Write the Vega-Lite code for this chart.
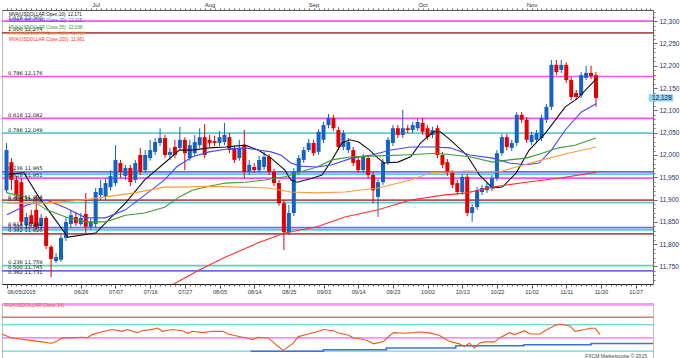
{
"$schema": "https://vega.github.io/schema/vega-lite/v6.json",
"padding": 0,
"background": "white",
"spacing": 6,
"config": {"view": {"stroke": "#bdbdbd"}, "font": "Liberation Sans", "axis": {"grid": false, "title": null, "labelFont": "Liberation Sans", "domainWidth": 1, "tickWidth": 1}},
"datasets": {
"ohlc": [
{"i":0,"o":11.921,"h":12.027,"l":11.915,"c":12.011},
{"i":1,"o":11.984,"h":11.993,"l":11.921,"c":11.944},
{"i":2,"o":11.944,"h":11.953,"l":11.899,"c":11.910},
{"i":3,"o":11.939,"h":11.948,"l":11.841,"c":11.850},
{"i":4,"o":11.843,"h":11.870,"l":11.834,"c":11.861},
{"i":5,"o":11.865,"h":11.877,"l":11.839,"c":11.845},
{"i":6,"o":11.877,"h":11.910,"l":11.832,"c":11.839},
{"i":7,"o":11.841,"h":11.868,"l":11.834,"c":11.859},
{"i":8,"o":11.859,"h":11.863,"l":11.789,"c":11.796},
{"i":9,"o":11.794,"h":11.798,"l":11.726,"c":11.767},
{"i":10,"o":11.762,"h":11.780,"l":11.758,"c":11.771},
{"i":11,"o":11.765,"h":11.821,"l":11.760,"c":11.814},
{"i":12,"o":11.814,"h":11.861,"l":11.807,"c":11.850},
{"i":13,"o":11.845,"h":11.877,"l":11.836,"c":11.865},
{"i":14,"o":11.861,"h":11.872,"l":11.841,"c":11.847},
{"i":15,"o":11.845,"h":11.870,"l":11.841,"c":11.859},
{"i":16,"o":11.868,"h":11.915,"l":11.825,"c":11.839},
{"i":17,"o":11.839,"h":11.857,"l":11.832,"c":11.850},
{"i":18,"o":11.845,"h":11.926,"l":11.836,"c":11.917},
{"i":19,"o":11.910,"h":11.944,"l":11.899,"c":11.926},
{"i":20,"o":11.906,"h":11.948,"l":11.899,"c":11.937},
{"i":21,"o":11.928,"h":11.966,"l":11.921,"c":11.953},
{"i":22,"o":11.937,"h":12.022,"l":11.930,"c":11.989},
{"i":23,"o":11.982,"h":11.989,"l":11.948,"c":11.962},
{"i":24,"o":11.953,"h":11.978,"l":11.944,"c":11.971},
{"i":25,"o":11.971,"h":11.978,"l":11.930,"c":11.939},
{"i":26,"o":11.944,"h":11.989,"l":11.937,"c":11.982},
{"i":27,"o":12.000,"h":12.016,"l":11.955,"c":11.962},
{"i":28,"o":11.966,"h":12.011,"l":11.960,"c":12.000},
{"i":29,"o":11.993,"h":12.034,"l":11.987,"c":12.011},
{"i":30,"o":12.007,"h":12.038,"l":12.000,"c":12.029},
{"i":31,"o":12.027,"h":12.060,"l":12.020,"c":12.038},
{"i":32,"o":12.038,"h":12.045,"l":11.993,"c":12.000},
{"i":33,"o":12.000,"h":12.016,"l":11.989,"c":12.007},
{"i":34,"o":12.018,"h":12.034,"l":11.993,"c":12.000},
{"i":35,"o":12.016,"h":12.063,"l":12.009,"c":12.034},
{"i":36,"o":12.034,"h":12.040,"l":11.966,"c":12.004},
{"i":37,"o":11.993,"h":12.034,"l":11.987,"c":12.022},
{"i":38,"o":12.004,"h":12.045,"l":11.998,"c":12.029},
{"i":39,"o":12.022,"h":12.060,"l":12.016,"c":12.040},
{"i":40,"o":12.040,"h":12.069,"l":11.993,"c":12.000},
{"i":41,"o":12.034,"h":12.045,"l":12.018,"c":12.027},
{"i":42,"o":12.031,"h":12.043,"l":12.020,"c":12.027},
{"i":43,"o":12.027,"h":12.054,"l":12.020,"c":12.040},
{"i":44,"o":12.029,"h":12.072,"l":12.022,"c":12.045},
{"i":45,"o":12.040,"h":12.049,"l":12.004,"c":12.011},
{"i":46,"o":12.016,"h":12.022,"l":11.982,"c":11.989},
{"i":47,"o":11.993,"h":12.034,"l":11.987,"c":12.016},
{"i":48,"o":12.022,"h":12.056,"l":11.948,"c":11.962},
{"i":49,"o":11.962,"h":11.989,"l":11.955,"c":11.978},
{"i":50,"o":11.973,"h":11.982,"l":11.960,"c":11.966},
{"i":51,"o":11.966,"h":11.998,"l":11.960,"c":11.989},
{"i":52,"o":11.973,"h":12.007,"l":11.966,"c":11.996},
{"i":53,"o":11.996,"h":12.002,"l":11.955,"c":11.962},
{"i":54,"o":11.962,"h":11.969,"l":11.930,"c":11.937},
{"i":55,"o":11.937,"h":11.944,"l":11.886,"c":11.892},
{"i":56,"o":11.892,"h":11.899,"l":11.787,"c":11.827},
{"i":57,"o":11.827,"h":11.888,"l":11.821,"c":11.870},
{"i":58,"o":11.870,"h":11.971,"l":11.863,"c":11.962},
{"i":59,"o":11.962,"h":12.000,"l":11.955,"c":11.993},
{"i":60,"o":11.989,"h":12.018,"l":11.982,"c":12.011},
{"i":61,"o":12.011,"h":12.036,"l":12.007,"c":12.027},
{"i":62,"o":12.027,"h":12.034,"l":11.998,"c":12.004},
{"i":63,"o":12.007,"h":12.058,"l":12.000,"c":12.052},
{"i":64,"o":12.034,"h":12.074,"l":12.027,"c":12.067},
{"i":65,"o":12.067,"h":12.092,"l":12.060,"c":12.083},
{"i":66,"o":12.083,"h":12.090,"l":12.054,"c":12.060},
{"i":67,"o":12.056,"h":12.063,"l":12.011,"c":12.018},
{"i":68,"o":12.018,"h":12.056,"l":12.011,"c":12.049},
{"i":69,"o":12.011,"h":12.038,"l":12.004,"c":12.029},
{"i":70,"o":12.011,"h":12.018,"l":11.975,"c":11.982},
{"i":71,"o":11.989,"h":11.996,"l":11.960,"c":11.966},
{"i":72,"o":11.966,"h":12.002,"l":11.960,"c":11.996},
{"i":73,"o":11.993,"h":12.000,"l":11.948,"c":11.955},
{"i":74,"o":11.955,"h":11.962,"l":11.892,"c":11.921},
{"i":75,"o":11.906,"h":11.946,"l":11.861,"c":11.939},
{"i":76,"o":11.939,"h":11.991,"l":11.933,"c":11.984},
{"i":77,"o":11.984,"h":12.040,"l":11.978,"c":12.034},
{"i":78,"o":12.027,"h":12.067,"l":12.020,"c":12.060},
{"i":79,"o":12.060,"h":12.067,"l":12.038,"c":12.045},
{"i":80,"o":12.045,"h":12.101,"l":12.038,"c":12.060},
{"i":81,"o":12.060,"h":12.067,"l":12.049,"c":12.056},
{"i":82,"o":12.056,"h":12.074,"l":12.049,"c":12.067},
{"i":83,"o":12.060,"h":12.081,"l":12.054,"c":12.074},
{"i":84,"o":12.072,"h":12.083,"l":12.045,"c":12.052},
{"i":85,"o":12.060,"h":12.067,"l":12.034,"c":12.040},
{"i":86,"o":12.045,"h":12.063,"l":12.038,"c":12.056},
{"i":87,"o":12.060,"h":12.067,"l":11.993,"c":12.000},
{"i":88,"o":12.000,"h":12.007,"l":11.971,"c":11.978},
{"i":89,"o":11.984,"h":11.991,"l":11.953,"c":11.960},
{"i":90,"o":11.960,"h":11.966,"l":11.926,"c":11.933},
{"i":91,"o":11.937,"h":11.944,"l":11.910,"c":11.917},
{"i":92,"o":11.917,"h":11.957,"l":11.910,"c":11.951},
{"i":93,"o":11.951,"h":11.957,"l":11.863,"c":11.870},
{"i":94,"o":11.870,"h":11.890,"l":11.850,"c":11.883},
{"i":95,"o":11.883,"h":11.928,"l":11.877,"c":11.921},
{"i":96,"o":11.917,"h":11.933,"l":11.910,"c":11.926},
{"i":97,"o":11.921,"h":11.937,"l":11.915,"c":11.930},
{"i":98,"o":11.926,"h":11.955,"l":11.919,"c":11.948},
{"i":99,"o":11.948,"h":12.011,"l":11.942,"c":12.004},
{"i":100,"o":12.004,"h":12.047,"l":11.998,"c":12.040},
{"i":101,"o":12.040,"h":12.047,"l":12.011,"c":12.018},
{"i":102,"o":12.016,"h":12.034,"l":12.009,"c":12.027},
{"i":103,"o":12.027,"h":12.096,"l":12.020,"c":12.090},
{"i":104,"o":12.090,"h":12.096,"l":12.072,"c":12.079},
{"i":105,"o":12.079,"h":12.085,"l":12.027,"c":12.034},
{"i":106,"o":12.029,"h":12.052,"l":12.022,"c":12.045},
{"i":107,"o":12.034,"h":12.056,"l":12.027,"c":12.049},
{"i":108,"o":12.038,"h":12.090,"l":12.031,"c":12.083},
{"i":109,"o":12.079,"h":12.114,"l":12.072,"c":12.108},
{"i":110,"o":12.108,"h":12.213,"l":12.101,"c":12.202},
{"i":111,"o":12.202,"h":12.213,"l":12.179,"c":12.186},
{"i":112,"o":12.191,"h":12.213,"l":12.184,"c":12.202},
{"i":113,"o":12.202,"h":12.208,"l":12.161,"c":12.168},
{"i":114,"o":12.168,"h":12.175,"l":12.123,"c":12.130},
{"i":115,"o":12.139,"h":12.146,"l":12.123,"c":12.130},
{"i":116,"o":12.134,"h":12.186,"l":12.128,"c":12.179},
{"i":117,"o":12.173,"h":12.200,"l":12.168,"c":12.184},
{"i":118,"o":12.184,"h":12.200,"l":12.170,"c":12.177},
{"i":119,"o":12.179,"h":12.186,"l":12.108,"c":12.128}
],
"ma": [
{"ma":"10","i":0.5,"p":11.957},{"ma":"10","i":3.5,"p":11.960},{"ma":"10","i":6.5,"p":11.906},{"ma":"10","i":12.4,"p":11.816},{"ma":"10","i":18,"p":11.825},{"ma":"10","i":21,"p":11.859},{"ma":"10","i":24,"p":11.892},{"ma":"10","i":27.9,"p":11.944},{"ma":"10","i":31.9,"p":11.982},{"ma":"10","i":34.9,"p":12.011},{"ma":"10","i":37.5,"p":12.011},{"ma":"10","i":40.9,"p":12.016},{"ma":"10","i":44.2,"p":12.018},{"ma":"10","i":48.2,"p":12.022},{"ma":"10","i":50.8,"p":12.011},{"ma":"10","i":53.4,"p":11.993},{"ma":"10","i":56.2,"p":11.966},{"ma":"10","i":57.4,"p":11.944},{"ma":"10","i":58.7,"p":11.939},{"ma":"10","i":61.7,"p":11.948},{"ma":"10","i":63.7,"p":11.955},{"ma":"10","i":65.7,"p":11.989},{"ma":"10","i":67.7,"p":12.027},{"ma":"10","i":69.3,"p":12.034},{"ma":"10","i":71.1,"p":12.029},{"ma":"10","i":73.3,"p":12.011},{"ma":"10","i":75,"p":11.993},{"ma":"10","i":76.2,"p":11.982},{"ma":"10","i":79,"p":11.984},{"ma":"10","i":81.6,"p":11.996},{"ma":"10","i":83.6,"p":12.027},{"ma":"10","i":86.2,"p":12.052},{"ma":"10","i":87.6,"p":12.052},{"ma":"10","i":89.6,"p":12.034},{"ma":"10","i":92.9,"p":12.000},{"ma":"10","i":95.5,"p":11.955},{"ma":"10","i":98.1,"p":11.926},{"ma":"10","i":100.1,"p":11.928},{"ma":"10","i":102.9,"p":11.960},{"ma":"10","i":105.5,"p":12.011},{"ma":"10","i":108.8,"p":12.049},{"ma":"10","i":112.8,"p":12.108},{"ma":"10","i":115.4,"p":12.128},{"ma":"10","i":119,"p":12.170},
{"ma":"20","i":0.1,"p":11.866},{"ma":"20","i":4.1,"p":11.888},{"ma":"20","i":8.1,"p":11.899},{"ma":"20","i":12,"p":11.881},{"ma":"20","i":16,"p":11.859},{"ma":"20","i":20,"p":11.859},{"ma":"20","i":24,"p":11.877},{"ma":"20","i":27.9,"p":11.910},{"ma":"20","i":31.9,"p":11.944},{"ma":"20","i":34.3,"p":11.973},{"ma":"20","i":37.5,"p":11.996},{"ma":"20","i":40.9,"p":12.007},{"ma":"20","i":44.2,"p":12.013},{"ma":"20","i":48.2,"p":12.016},{"ma":"20","i":50.8,"p":12.011},{"ma":"20","i":53.4,"p":12.007},{"ma":"20","i":55.4,"p":12.000},{"ma":"20","i":57.4,"p":11.982},{"ma":"20","i":59.3,"p":11.975},{"ma":"20","i":62.7,"p":11.973},{"ma":"20","i":65.7,"p":11.978},{"ma":"20","i":69.7,"p":11.993},{"ma":"20","i":73.7,"p":12.000},{"ma":"20","i":77.6,"p":12.011},{"ma":"20","i":81.6,"p":12.018},{"ma":"20","i":86.2,"p":12.018},{"ma":"20","i":89.6,"p":12.016},{"ma":"20","i":93.5,"p":12.000},{"ma":"20","i":98.1,"p":11.993},{"ma":"20","i":101.5,"p":11.982},{"ma":"20","i":104.9,"p":11.978},{"ma":"20","i":107.5,"p":11.982},{"ma":"20","i":110,"p":12.011},{"ma":"20","i":112.8,"p":12.056},{"ma":"20","i":116,"p":12.096},{"ma":"20","i":119,"p":12.115},
{"ma":"55","i":0.1,"p":11.915},{"ma":"55","i":4.1,"p":11.906},{"ma":"55","i":8.1,"p":11.877},{"ma":"55","i":12,"p":11.861},{"ma":"55","i":16,"p":11.850},{"ma":"55","i":20,"p":11.850},{"ma":"55","i":24,"p":11.865},{"ma":"55","i":27.9,"p":11.870},{"ma":"55","i":31.9,"p":11.883},{"ma":"55","i":34.9,"p":11.906},{"ma":"55","i":37.5,"p":11.921},{"ma":"55","i":40.9,"p":11.930},{"ma":"55","i":44.2,"p":11.937},{"ma":"55","i":48.2,"p":11.939},{"ma":"55","i":52.2,"p":11.944},{"ma":"55","i":56.2,"p":11.951},{"ma":"55","i":59.3,"p":11.962},{"ma":"55","i":62.7,"p":11.973},{"ma":"55","i":65.7,"p":11.989},{"ma":"55","i":69.7,"p":11.996},{"ma":"55","i":75,"p":11.998},{"ma":"55","i":80.2,"p":12.000},{"ma":"55","i":87,"p":12.004},{"ma":"55","i":93.5,"p":11.996},{"ma":"55","i":98.1,"p":11.984},{"ma":"55","i":101.5,"p":11.989},{"ma":"55","i":104.9,"p":11.993},{"ma":"55","i":108.1,"p":12.004},{"ma":"55","i":111.4,"p":12.016},{"ma":"55","i":114.8,"p":12.022},{"ma":"55","i":119,"p":12.038},
{"ma":"100","i":0.1,"p":11.892},{"ma":"100","i":8.1,"p":11.892},{"ma":"100","i":15.4,"p":11.899},{"ma":"100","i":20,"p":11.906},{"ma":"100","i":25.9,"p":11.915},{"ma":"100","i":31.9,"p":11.928},{"ma":"100","i":34.9,"p":11.928},{"ma":"100","i":40.9,"p":11.930},{"ma":"100","i":47.4,"p":11.928},{"ma":"100","i":52.8,"p":11.926},{"ma":"100","i":57.4,"p":11.917},{"ma":"100","i":62.7,"p":11.915},{"ma":"100","i":68.3,"p":11.917},{"ma":"100","i":75,"p":11.926},{"ma":"100","i":81.6,"p":11.944},{"ma":"100","i":85.6,"p":11.960},{"ma":"100","i":89.6,"p":11.962},{"ma":"100","i":92.9,"p":11.964},{"ma":"100","i":99.5,"p":11.962},{"ma":"100","i":102.9,"p":11.973},{"ma":"100","i":108.1,"p":11.989},{"ma":"100","i":113.4,"p":12.004},{"ma":"100","i":119,"p":12.018},
{"ma":"200","i":33.5,"p":11.709},{"ma":"200","i":38.9,"p":11.742},{"ma":"200","i":44.2,"p":11.771},{"ma":"200","i":50.8,"p":11.803},{"ma":"200","i":56.2,"p":11.825},{"ma":"200","i":62.7,"p":11.839},{"ma":"200","i":68.3,"p":11.861},{"ma":"200","i":75,"p":11.877},{"ma":"200","i":81.6,"p":11.899},{"ma":"200","i":88.2,"p":11.910},{"ma":"200","i":92.9,"p":11.915},{"ma":"200","i":98.1,"p":11.928},{"ma":"200","i":104.9,"p":11.939},{"ma":"200","i":111.4,"p":11.948},{"ma":"200","i":119,"p":11.961}
],
"fib": [
{"p":12.300,"s":"m"},{"p":12.274,"s":"b"},{"p":12.176,"s":"m"},{"p":12.082,"s":"m"},{"p":12.049,"s":"c"},{"p":11.962,"s":"u"},{"p":11.957,"s":"c"},{"p":11.948,"s":"m"},{"p":11.899,"s":"b"},{"p":11.893,"s":"c"},{"p":11.837,"s":"u"},{"p":11.832,"s":"c"},{"p":11.823,"s":"b"},{"p":11.752,"s":"c"},{"p":11.740,"s":"u"}
],
"fibText": [
{"p":12.300,"t":"1.618 12,300"},{"p":12.274,"t":"1.000 12,274"},{"p":12.176,"t":"0.786 12,176"},{"p":12.082,"t":"0.618 12,082"},{"p":12.049,"t":"0.786 12,049"},{"p":11.962,"t":"0.236 11,965"},{"p":11.948,"t":"0.618 11,951"},{"p":11.899,"t":"0.382 11,904"},{"p":11.893,"t":"0.500 11,893"},{"p":11.837,"t":"0.618 11,841"},{"p":11.832,"t":"0.500 11,835"},{"p":11.823,"t":"0.382 11,826"},{"p":11.752,"t":"0.236 11,759"},{"p":11.740,"t":"0.500 11,745"},{"p":11.729,"t":"0.382 11,731"}
],
"legend": [
{"ma":"10","k":0,"t":"MVA(USDOLLAR.Open,10): 12,171"},
{"ma":"20","k":1,"t":"MVA(USDOLLAR.Close,20): 12,115"},
{"ma":"55","k":2,"t":"MVA(USDOLLAR.Close,55): 12,038"},
{"ma":"100","k":3,"t":"MVA(USDOLLAR.Close,100): 12,018"},
{"ma":"200","k":4,"t":"MVA(USDOLLAR.Close,200): 11,961"}
],
"last": [{"p":12.128,"t":"12,128"}],
"rsi": [
{"i":0,"v":56},{"i":2,"v":50},{"i":3,"v":49},{"i":5,"v":47},{"i":8,"v":44},{"i":10,"v":42},{"i":11,"v":45},{"i":12,"v":50},{"i":14,"v":50},{"i":16,"v":51},{"i":17,"v":50},{"i":18,"v":55},{"i":20,"v":59.5},{"i":22,"v":62.7},{"i":24,"v":60},{"i":25,"v":62.7},{"i":27,"v":58},{"i":28,"v":61},{"i":30,"v":63},{"i":31,"v":65},{"i":32,"v":60},{"i":34,"v":62.7},{"i":36,"v":61},{"i":37,"v":57},{"i":38,"v":60},{"i":40,"v":58},{"i":42,"v":60},{"i":44,"v":60},{"i":45,"v":56},{"i":47,"v":52.5},{"i":49,"v":49},{"i":50,"v":47.5},{"i":51,"v":51},{"i":53,"v":50},{"i":54,"v":43.6},{"i":55,"v":37},{"i":56,"v":31},{"i":58,"v":42},{"i":59,"v":52},{"i":61,"v":56},{"i":63,"v":60},{"i":64,"v":62.7},{"i":66,"v":61},{"i":67,"v":57.6},{"i":69,"v":54},{"i":70,"v":50},{"i":72,"v":47.5},{"i":73,"v":45},{"i":74,"v":41},{"i":76,"v":45},{"i":77,"v":52.5},{"i":78,"v":58},{"i":80,"v":57},{"i":82,"v":58},{"i":83,"v":59},{"i":85,"v":57.6},{"i":87,"v":54},{"i":88,"v":49},{"i":89,"v":45},{"i":91,"v":41},{"i":92,"v":37},{"i":93,"v":42},{"i":94,"v":34.8},{"i":95,"v":42},{"i":96,"v":44},{"i":98,"v":44},{"i":99,"v":50},{"i":101,"v":58},{"i":102,"v":55},{"i":104,"v":61},{"i":105,"v":56},{"i":107,"v":56},{"i":108,"v":61},{"i":110,"v":69},{"i":111,"v":71},{"i":113,"v":68},{"i":114,"v":60},{"i":116,"v":62.7},{"i":117,"v":64.6},{"i":118,"v":64.6},{"i":119,"v":55}
],
"step": [
{"i":49.5,"v":29.7},{"i":64,"v":32.2},{"i":76.5,"v":34.8},{"i":90.3,"v":38},{"i":103.8,"v":39.8},{"i":117.2,"v":41.7},{"i":129.5,"v":41.7}
],
"rsiLines": [
{"v":100,"s":"k"},{"v":81.5,"s":"g"},{"v":70,"s":"r"},{"v":50,"s":"k"},{"v":30,"s":"r"}
]
},
"vconcat": [
{
"width": 651,
"height": 274,
"layer": [
{
"layer": [
{
"data": {"name": "fib"},
"mark": {"type": "rule", "strokeWidth": 1.7, "opacity": 0.9},
"encoding": {
"y": {"field": "p", "type": "quantitative", "scale": {"domain": [11.7107, 12.3251], "nice": false, "zero": false},
"axis": {"orient": "right", "values": [11.75,11.8,11.85,11.9,11.95,12.0,12.05,12.1,12.15,12.2,12.25,12.3], "labelExpr": "replace(format(datum.value, '.3f'), '.', ',')", "tickSize": 4, "labelFontSize": 6.5, "labelColor": "#283060", "labelPadding": 2, "domainColor": "#666", "tickColor": "#666"}},
"stroke": {"field": "s", "type": "nominal", "scale": {"domain": ["m","b","c","u"], "range": ["#ff3dff","#a54040","#46c9cc","#5b5bf2"]}, "legend": null}
}
},
{
"data": {"name": "ohlc"},
"mark": {"type": "rule", "strokeWidth": 1, "clip": true},
"encoding": {
"x": {"field": "i", "type": "quantitative", "scale": {"domain": [0.1, 129.5], "nice": false, "zero": false},
"axis": {"orient": "bottom", "values": [0.1,15,22,29,36,43,50,57,64,71,78,85,92,99,106,113,120,127], "labelExpr": "datum.value < 1 ? '06/05/2015' : ['06/26','07/07','07/16','07/27','08/05','08/14','08/25','09/03','09/14','09/23','10/02','10/13','10/22','11/02','11/11','11/20','11/27'][round((datum.value - 15) / 7)]", "labelAlign": {"condition": {"test": "datum.value < 1", "value": "left"}, "value": "center"}, "labelFlush": false, "labelOverlap": false, "tickSize": 4, "labelFontSize": 5.6, "labelColor": "#333", "labelPadding": 1, "domainColor": "#222", "tickColor": "#444"}},
"y": {"field": "l", "type": "quantitative", "scale": {"domain": [11.7107, 12.3251], "nice": false, "zero": false},
"axis": {"orient": "right", "tickCount": 61, "labels": false, "domain": false, "tickSize": 2, "tickColor": "#777"}},
"y2": {"field": "h"},
"color": {"condition": {"test": "datum.c >= datum.o", "value": "#1462c4"}, "value": "#e30000"}
}
},
{
"data": {"name": "ohlc"},
"mark": {"type": "bar", "size": 4, "clip": true},
"encoding": {
"x": {"field": "i", "type": "quantitative", "scale": {"domain": [0.1, 129.5], "nice": false, "zero": false},
"axis": {"orient": "top", "values": [18,41,62,84,106], "labelExpr": "['Jul','Aug','Sep','Oct','Nov'][indexof([18,41,62,84,106], datum.value)]", "tickSize": 0, "labelFontSize": 6, "labelColor": "#333", "labelPadding": 3, "domainColor": "#555"}},
"y": {"field": "o", "type": "quantitative", "scale": {"domain": [11.7107, 12.3251], "nice": false, "zero": false}, "axis": null},
"y2": {"field": "c"},
"color": {"condition": {"test": "datum.c >= datum.o", "value": "#1462c4"}, "value": "#e30000"}
}
},
{
"data": {"name": "ma"},
"mark": {"type": "line", "strokeWidth": 1.1, "clip": true},
"encoding": {
"x": {"field": "i", "type": "quantitative", "scale": {"domain": [0.1, 129.5], "nice": false, "zero": false},
"axis": {"orient": "bottom", "tickCount": 130, "labels": false, "domain": false, "tickSize": 2, "tickColor": "#666"}},
"y": {"field": "p", "type": "quantitative", "scale": {"domain": [11.7107, 12.3251], "nice": false, "zero": false}, "axis": null},
"color": {"field": "ma", "type": "nominal", "scale": {"domain": ["10","20","55","100","200"], "range": ["#111111","#4646ff","#3d9a3d","#ff9a3c","#ff2e2e"]}, "legend": null}
}
},
{
"data": {"name": "fibText"},
"mark": {"type": "text", "align": "left", "baseline": "bottom", "dy": -0.5, "font": "DejaVu Sans", "fontSize": 5.2, "color": "#1a1a1a"},
"encoding": {
"x": {"datum": 0.3, "type": "quantitative", "scale": {"domain": [0.1, 129.5], "nice": false, "zero": false},
"axis": {"orient": "top", "tickCount": 130, "labels": false, "domain": false, "tickSize": 2, "tickColor": "#666"}},
"y": {"field": "p", "type": "quantitative", "scale": {"domain": [11.7107, 12.3251], "nice": false, "zero": false}, "axis": null},
"text": {"field": "t"}
}
},
{
"data": {"name": "last"},
"mark": {"type": "point", "shape": "M-1,-0.3L1,-0.3L1,0.3L-1,0.3Z", "filled": true, "size": 600, "opacity": 1, "color": "#8fd3f4", "clip": false},
"encoding": {
"x": {"datum": 132.1, "type": "quantitative", "axis": null},
"y": {"field": "p", "type": "quantitative", "scale": {"domain": [11.7107, 12.3251], "nice": false, "zero": false}, "axis": null}
}
},
{
"data": {"name": "last"},
"mark": {"type": "text", "align": "left", "baseline": "middle", "fontSize": 6.5, "color": "#1a1a40", "clip": false},
"encoding": {
"x": {"datum": 130.3, "type": "quantitative", "axis": null},
"y": {"field": "p", "type": "quantitative", "scale": {"domain": [11.7107, 12.3251], "nice": false, "zero": false}, "axis": null},
"text": {"field": "t"}
}
}
],
"resolve": {"axis": {"x": "independent", "y": "independent"}}
},
{
"data": {"name": "legend"},
"mark": {"type": "text", "align": "left", "baseline": "middle", "fontSize": 4.6},
"encoding": {
"x": {"datum": 0.5, "type": "quantitative", "axis": null},
"y": {"field": "k", "type": "quantitative", "scale": {"domain": [-0.9, 44.5], "reverse": true, "nice": false, "zero": false}, "axis": null},
"text": {"field": "t"},
"color": {"field": "ma", "type": "nominal", "scale": {"domain": ["10","20","55","100","200"], "range": ["#111111","#4646ff","#3d9a3d","#ff9a3c","#ff2e2e"]}, "legend": null}
}
}
],
"resolve": {"scale": {"y": "independent"}}
},
{
"width": 651,
"height": 56,
"layer": [
{
"data": {"name": "rsiLines"},
"mark": {"type": "rule", "strokeWidth": 1},
"encoding": {
"y": {"field": "v", "type": "quantitative", "scale": {"domain": [18, 103], "nice": false, "zero": false},
"axis": {"orient": "right", "values": [100, 81.5, 70, 50, 30], "labelExpr": "datum.value == 81.5 ? '51.56' : datum.label", "tickSize": 3, "labelFontSize": 6, "labelColor": "#222", "labelPadding": 2, "domainColor": "#666", "tickColor": "#666"}},
"stroke": {"field": "s", "type": "nominal", "scale": {"domain": ["k","g","r"], "range": ["#111111","#8e9ccc","#ff5050"]}, "legend": null}
}
},
{
"data": {"name": "step"},
"mark": {"type": "line", "interpolate": "step-after", "color": "#3d6fe8", "strokeWidth": 1.5, "clip": true},
"encoding": {
"x": {"field": "i", "type": "quantitative", "scale": {"domain": [0.1, 129.5], "nice": false, "zero": false}, "axis": null},
"y": {"field": "v", "type": "quantitative", "scale": {"domain": [18, 103], "nice": false, "zero": false}, "axis": null}
}
},
{
"data": {"name": "rsi"},
"mark": {"type": "line", "color": "#ee5a1e", "strokeWidth": 1.1, "clip": true},
"encoding": {
"x": {"field": "i", "type": "quantitative", "scale": {"domain": [0.1, 129.5], "nice": false, "zero": false}, "axis": null},
"y": {"field": "v", "type": "quantitative", "scale": {"domain": [18, 103], "nice": false, "zero": false}, "axis": null}
}
},
{
"data": {"values": [{"t": "RSI(USDOLLAR.Close,14)"}]},
"mark": {"type": "text", "align": "left", "baseline": "middle", "fontSize": 5, "color": "#f05a28"},
"encoding": {
"x": {"datum": 0.6, "type": "quantitative", "axis": null},
"y": {"datum": 99.5, "type": "quantitative", "axis": null},
"text": {"field": "t"}
}
},
{
"data": {"values": [{"t": "FXCM Marketscope © 2015"}]},
"mark": {"type": "text", "align": "right", "baseline": "middle", "fontSize": 5, "color": "#444"},
"encoding": {
"x": {"datum": 128.3, "type": "quantitative", "axis": null},
"y": {"datum": 22, "type": "quantitative", "axis": null},
"text": {"field": "t"}
}
}
]
}
]
}
